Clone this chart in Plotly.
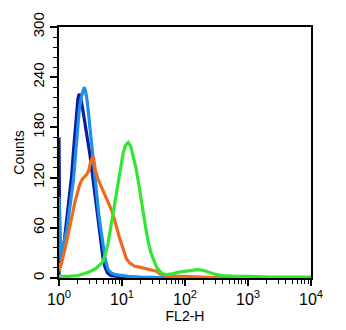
import plotly.graph_objects as go

# log10(FL2-H) positions and counts for each histogram
navy_logx = [0.0, 0.0, 0.012, 0.03, 0.06, 0.09, 0.11, 0.14, 0.17, 0.20, 0.23, 0.26, 0.28, 0.30, 0.32, 0.34,
             0.37, 0.40, 0.43, 0.46, 0.49, 0.52, 0.55, 0.58, 0.61, 0.64, 0.67, 0.70, 0.73, 0.77, 0.82,
             0.90, 1.0, 1.2, 1.5, 2.0, 3.0, 4.0]
navy_counts = [0, 168, 40, 18, 30, 48, 62, 82, 102, 122, 152, 182, 202, 214, 220, 217,
               205, 192, 178, 163, 148, 130, 113, 94, 74, 56, 38, 23, 13, 6, 3,
               2, 1, 0.5, 0, 0, 0, 0]

blue_logx = [0.0, 0.01, 0.03, 0.05, 0.07, 0.10, 0.13, 0.16, 0.19, 0.23, 0.26, 0.29, 0.32, 0.35, 0.38,
             0.40, 0.42, 0.45, 0.48, 0.51, 0.54, 0.57, 0.60, 0.63, 0.66, 0.70, 0.74, 0.78, 0.83,
             0.90, 1.0, 1.1, 1.3, 1.7, 2.0, 3.0, 4.0]
blue_counts = [97, 60, 20, 30, 40, 50, 60, 76, 95, 118, 145, 175, 200, 215, 225,
               228, 224, 210, 188, 165, 140, 117, 95, 77, 60, 38, 20, 10, 6,
               4, 3, 2, 1, 0.5, 0, 0, 0]

orange_logx = [0.0, 0.01, 0.02, 0.05, 0.08, 0.11, 0.14, 0.175, 0.21, 0.25, 0.29, 0.33, 0.37, 0.41, 0.44,
               0.47, 0.50, 0.54, 0.58, 0.62, 0.65, 0.69, 0.73, 0.78, 0.84, 0.88, 0.92, 0.96, 1.00,
               1.04, 1.07, 1.12, 1.20, 1.28, 1.35, 1.42, 1.50, 1.55, 1.60, 1.70, 1.80, 2.0, 2.2,
               2.5, 2.6, 3.0, 4.0]
orange_counts = [8, 18, 12, 20, 30, 40, 50, 60, 75, 90, 103, 112, 118, 121, 124,
                 128, 138, 146, 128, 118, 113, 105, 98, 90, 80, 70, 58, 48, 39,
                 30, 23, 18, 14, 13, 12, 11, 9, 8, 5, 3, 2, 2, 1.5,
                 1, 0, 0, 0]

green_logx = [0.0, 0.15, 0.3, 0.4, 0.5, 0.58, 0.64, 0.70, 0.74, 0.78, 0.82, 0.86, 0.90, 0.94, 0.98,
              1.02, 1.06, 1.10, 1.14, 1.18, 1.22, 1.26, 1.30, 1.34, 1.38, 1.42, 1.46, 1.50, 1.55,
              1.60, 1.65, 1.70, 1.80, 1.90, 2.0, 2.1, 2.2, 2.3, 2.4, 2.5, 2.6, 2.8, 3.0, 3.4, 4.0]
green_counts = [2, 2, 3, 5, 8, 11, 15, 20, 30, 42, 60, 78, 98, 118, 135,
                150, 159, 162, 157, 145, 132, 115, 95, 75, 58, 42, 30, 22, 13,
                8, 5, 4, 5, 7, 8, 9, 10, 9, 6, 4, 3, 2, 2, 1, 1]

y_ticks = [0, 60, 120, 180, 240, 300]
x_tick_vals = [1, 10, 100, 1000, 10000]
x_tick_text = ["10<sup>0</sup>", "10<sup>1</sup>", "10<sup>2</sup>", "10<sup>3</sup>", "10<sup>4</sup>"]

series = [
    (navy_logx, navy_counts, "#0B1C9C"),
    (blue_logx, blue_counts, "#1E8FEA"),
    (orange_logx, orange_counts, "#F06A1E"),
    (green_logx, green_counts, "#33E633"),
]

fig = go.Figure()
for lx, cnt, col in series:
    fig.add_trace(go.Scatter(x=[10 ** v for v in lx], y=cnt, mode="lines",
                             line=dict(color=col, width=3.2), showlegend=False))

minor_x = [m * 10 ** d for d in range(4) for m in range(2, 10)]

fig.update_layout(
    width=346, height=330,
    margin=dict(l=59, r=35, t=24, b=50),
    paper_bgcolor="white", plot_bgcolor="white",
    font=dict(family="Liberation Sans, Arial, sans-serif", color="black", size=13),
    xaxis=dict(
        type="log", range=[0, 4],
        tickmode="array", tickvals=x_tick_vals, ticktext=x_tick_text,
        ticks="outside", ticklen=6, tickwidth=1.6, tickcolor="black",
        minor=dict(tickmode="array", tickvals=minor_x, ticks="outside", ticklen=4,
                   tickwidth=1.4, tickcolor="black", showgrid=False),
        showline=True, linecolor="black", linewidth=1.6, mirror=True,
        showgrid=False, zeroline=False,
        tickfont=dict(size=16),
        title=dict(text="FL2-H", font=dict(size=14), standoff=0),
    ),
    yaxis=dict(
        range=[0, 300],
        tickmode="array", tickvals=y_ticks,
        ticks="outside", ticklen=7, tickwidth=1.6, tickcolor="black",
        minor=dict(dtick=12, ticks="outside", ticklen=4, tickwidth=1.4,
                   tickcolor="black", showgrid=False),
        tickangle=-90,
        showline=True, linecolor="black", linewidth=1.6, mirror=True,
        showgrid=False, zeroline=False,
        tickfont=dict(size=15),
        title=dict(text="Counts", font=dict(size=14), standoff=2),
    ),
)

fig.write_html("out.html")
